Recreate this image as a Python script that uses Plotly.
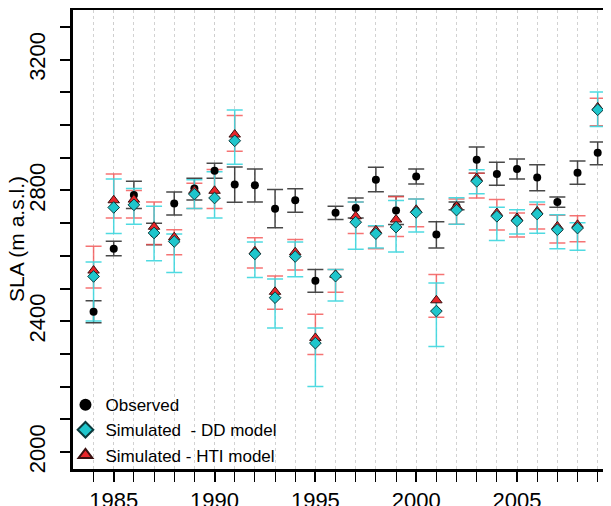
import plotly.graph_objects as go
import numpy as np

years = list(range(1984, 2010))

obs = [2429, 2622, 2786, 2668, 2760, 2806, 2860, 2818, 2816, 2744, 2770, 2524, 2732,
       2746, 2833, 2739, 2843, 2665, 2751, 2894, 2850, 2866, 2840, 2765, 2854, 2915]
obs_hi = [2463, 2645, 2828, 2700, 2795, 2837, 2883, 2872, 2866, 2803, 2805, 2558, 2752,
          2777, 2871, 2782, 2866, 2704, 2765, 2933, 2886, 2896, 2879, 2780, 2890, 2948]
obs_lo = [2395, 2600, 2745, 2634, 2725, 2771, 2837, 2764, 2765, 2686, 2733, 2489, 2711,
          2716, 2796, 2696, 2820, 2624, 2741, 2853, 2816, 2835, 2799, 2749, 2819, 2879]

dd = [2537, 2748, 2756, 2670, 2644, 2789, 2777, 2952, 2606, 2472, 2598, 2333, 2538,
      2703, 2668, 2688, 2733, 2431, 2740, 2828, 2721, 2707, 2728, 2680, 2685, 3047]
dd_hi = [2581, 2835, 2806, 2752, 2667, 2833, 2857, 3046, 2642, 2529, 2642, 2379, 2558,
         2765, 2692, 2769, 2774, 2517, 2778, 2863, 2749, 2741, 2765, 2726, 2701, 3101]
dd_lo = [2401, 2668, 2697, 2585, 2549, 2745, 2716, 2880, 2534, 2379, 2536, 2200, 2462,
         2620, 2624, 2612, 2673, 2323, 2697, 2790, 2647, 2667, 2669, 2622, 2617, 2996]

hti = [2555, 2770, 2772, 2689, 2657, 2799, 2799, 2971, 2614, 2490, 2611, 2349, 2542,
       2721, 2678, 2711, 2741, 2464, 2751, 2838, 2731, 2716, 2736, 2690, 2695, 3054]
hti_hi = [2629, 2850, 2800, 2765, 2680, 2822, 2864, 3029, 2655, 2538, 2650, 2421, 2558,
          2765, 2690, 2781, 2774, 2543, 2774, 2853, 2772, 2731, 2757, 2724, 2723, 3082]
hti_lo = [2502, 2716, 2716, 2635, 2603, 2745, 2745, 2920, 2563, 2437, 2557, 2298, 2489,
          2668, 2622, 2659, 2689, 2412, 2697, 2777, 2679, 2658, 2682, 2639, 2643, 2998]

x_labels = [1985, 1990, 1995, 2000, 2005]
y_labels = [2000, 2400, 2800, 3200]
y_minor = list(range(2000, 3301, 100))
y_title = "SLA (m a.s.l.)"

FONT = "Liberation Sans, Arial, Helvetica, sans-serif"
GRID = "rgba(205,205,205,0.9)"

def err(v, hi, lo):
    v = np.array(v); hi = np.array(hi); lo = np.array(lo)
    return (hi - v).tolist(), (v - lo).tolist()

fig = go.Figure()

series = [
    ("Observed", obs, obs_hi, obs_lo, "rgba(40,40,40,0.85)",
     dict(symbol="circle", size=8, color="black", line=dict(width=0)), 1),
    ("Simulated - HTI model", hti, hti_hi, hti_lo, "rgba(242,80,80,0.8)",
     dict(symbol="triangle-up", size=10, color="#e8262a", line=dict(width=1, color="#3a1010")), 3),
    ("Simulated  - DD model", dd, dd_hi, dd_lo, "rgba(60,214,222,0.9)",
     dict(symbol="diamond", size=9, color="#1fc6cc", line=dict(width=1, color="#0b3a3c")), 2),
]

for name, v, hi, lo, ecol, mk, rank in series:
    p, m = err(v, hi, lo)
    fig.add_trace(go.Scatter(
        x=years, y=v, mode="markers", showlegend=False, hoverinfo="skip",
        marker=dict(size=1, color="rgba(0,0,0,0)"),
        error_y=dict(type="data", symmetric=False, array=p, arrayminus=m,
                     color=ecol, thickness=1.5, width=8),
    ))

for name, v, hi, lo, ecol, mk, rank in series:
    fig.add_trace(go.Scatter(
        x=years, y=v, mode="markers", name=name, marker=mk, legendrank=rank,
    ))

# page body has an 8px margin: compensate so the plot box lands where the reference has it
fig.update_layout(
    width=611, height=506,
    margin=dict(l=65, r=8, t=2, b=45, autoexpand=False),
    paper_bgcolor="white", plot_bgcolor="white",
    font=dict(family=FONT, size=21, color="black"),
    showlegend=True,
    legend=dict(x=-0.014, y=-0.009, xanchor="left", yanchor="bottom",
                bgcolor="rgba(0,0,0,0)", font=dict(size=17, family=FONT),
                tracegroupgap=0, itemsizing="constant"),
    xaxis=dict(
        range=[1982.98, 2009.66], showline=True, linewidth=3, linecolor="black",
        mirror=True, ticks="outside", ticklen=10, tickwidth=2, tickcolor="black",
        tickvals=x_labels, ticktext=[str(v) for v in x_labels],
        tickfont=dict(size=22), ticklabelstandoff=0,
        showgrid=True, gridcolor=GRID, griddash="dot", gridwidth=1,
        minor=dict(tickvals=years, ticks="outside", ticklen=10, tickwidth=1.2,
                   tickcolor="black", showgrid=True,
                   gridcolor=GRID, griddash="dot", gridwidth=1),
        zeroline=False, fixedrange=True, automargin=False,
    ),
    yaxis=dict(
        range=[1948, 3352], showline=True, linewidth=3, linecolor="black",
        mirror=False, ticks="outside", ticklen=10, tickwidth=1.5, tickcolor="black",
        tickvals=y_labels, ticktext=[str(v) for v in y_labels], tickangle=-90,
        tickfont=dict(size=22), ticklabelstandoff=6,
        showgrid=False, zeroline=False, automargin=False,
        minor=dict(tickvals=y_minor, ticks="outside", ticklen=10, tickwidth=1.5,
                   tickcolor="black", showgrid=False),
    ),
    annotations=[dict(
        text=y_title, xref="paper", yref="paper", x=-0.105, y=0.5,
        xanchor="center", yanchor="middle", textangle=-90, showarrow=False,
        font=dict(size=21, family=FONT, color="black"),
    )],
)

fig.write_html("out.html")
